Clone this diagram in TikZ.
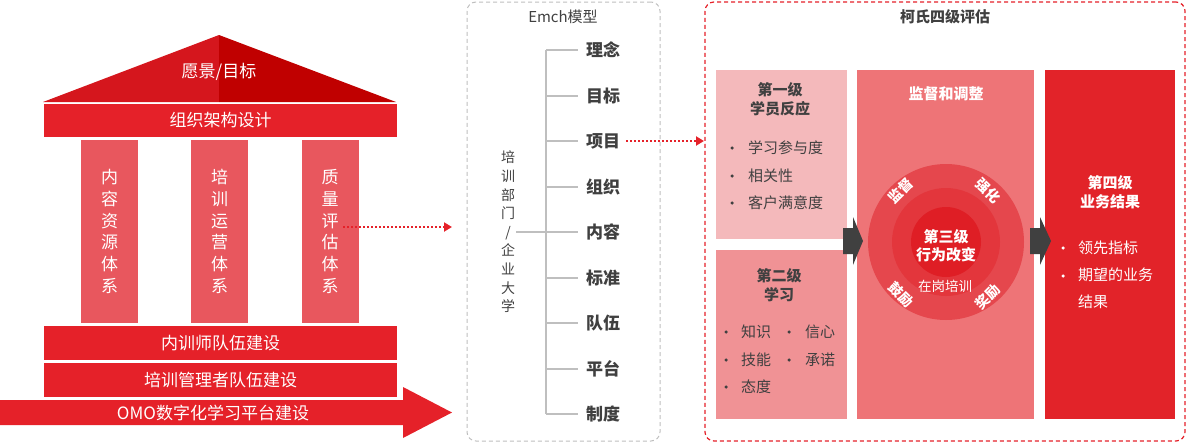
\documentclass[tikz,border=0pt]{standalone}
\usepackage{fontspec}
\setmainfont{Noto Sans CJK SC}
\usetikzlibrary{arrows.meta,calc}
\definecolor{roofL}{HTML}{D5161D}
\definecolor{roofR}{HTML}{C00000}
\definecolor{barRed}{HTML}{E52129}
\definecolor{pillarRed}{HTML}{E8575E}
\definecolor{darkText}{HTML}{404040}
\definecolor{treeGray}{HTML}{BFBFBF}
\definecolor{boxA}{HTML}{F4B9BB}
\definecolor{boxB}{HTML}{F09295}
\definecolor{boxC}{HTML}{EE7477}
\definecolor{boxD}{HTML}{E22329}
\definecolor{ringA}{HTML}{E5474D}
\definecolor{ringB}{HTML}{E3363C}
\definecolor{ringC}{HTML}{DF1E25}
\definecolor{arrowGray}{HTML}{404040}
\newcommand{\fsz}[2]{\fontsize{#1}{#2}\selectfont}
\begin{document}
\begin{tikzpicture}[x=1pt,y=-1pt,
  blk/.style={inner sep=0pt, outer sep=0pt},
  bar/.style={blk, fill=barRed, text=white, font=\fsz{17}{20}, minimum width=353pt, minimum height=34pt},
  pillar/.style={blk, fill=pillarRed, text=white, font=\fsz{17}{21.7}, align=center, minimum width=57pt, minimum height=183pt},
  item/.style={font=\fsz{17}{20}\bfseries, text=darkText, inner sep=0pt},
  tree/.style={draw=treeGray, line width=1.2pt},
  dotarrow/.style={draw=barRed, line width=2pt, dash pattern=on 2pt off 2pt, -{Triangle[length=8pt,width=9pt]}},
  bul/.style={circle, fill=#1, inner sep=0pt, minimum size=3.5pt},
  btext/.style={font=\fsz{15}{18}, anchor=west, inner sep=0pt},
  head/.style={font=\fsz{15}{19}\bfseries, align=center, inner sep=0pt},
  ring/.style={font=\fsz{14}{15}\bfseries, text=white, inner sep=0pt}
]
\useasboundingbox (0,0) rectangle (1186,442);

% ---------- temple ----------
\fill[roofL] (43,102) -- (219,35) -- (219,102) -- cycle;
\fill[roofR] (219,35) -- (396,102) -- (219,102) -- cycle;
\node[text=white, font=\fsz{17}{20}, inner sep=0pt] (vision) at (219,72) {愿景/目标};
\node[bar, minimum height=33pt] (org) at (220.5,120.5) {组织架构设计};
\node[pillar] (p1) at (109.5,231.5) {内\\容\\资\\源\\体\\系};
\node[pillar] (p2) at (219.5,231.5) {培\\训\\运\\营\\体\\系};
\node[pillar] (p3) at (330,231.5) {质\\量\\评\\估\\体\\系};
\node[bar] (trainers) at (220.5,343) {内训师队伍建设};
\node[bar] (managers) at (220.5,380) {培训管理者队伍建设};
\fill[barRed] (0,400) -- (403,400) -- (403,387) -- (452,412.5) -- (403,438) -- (403,425) -- (0,425) -- cycle;
\node[text=white, font=\fsz{17}{20}, inner sep=0pt] (omo) at (213,412.5) {OMO数字化学习平台建设};
\coordinate (q2) at (452,227);
\draw[dotarrow] ($(p3.center)+(13,-4.5)$) -- (q2);

% ---------- Emch ----------
\node[blk, draw=treeGray, line width=1pt, dash pattern=on 4pt off 3pt, rounded corners=9pt, minimum width=193pt, minimum height=439pt] (emch) at (563.5,221.5) {};
\node[font=\fsz{15}{18}, text=darkText, inner sep=0pt] (emchT) at (563,17) {Emch模型};
\draw[tree] (546,50) -- (546,414);
\foreach \n/\t/\yy in {e1/理念/50, e2/目标/96, e3/项目/141, e4/组织/187, e5/内容/232, e6/标准/278, e7/队伍/323, e8/平台/369, e9/制度/414}{
  \node[item] (\n) at (603,\yy) {\t};
  \draw[tree] (546,\yy) -- ([xshift=-8pt]\n.west);
}
\node[font=\fsz{14}{18.6}, text=darkText, align=center, inner sep=0pt] (dept) at (508,232) {培\\训\\部\\门\\/\\企\\业\\大\\学};
\draw[tree] ([xshift=1pt]dept.east) -- ([xshift=-8pt]e5.west);
\coordinate (kin) at (704,141);
\draw[dotarrow] ([xshift=6pt]e3.east) -- (kin);

% ---------- Kirkpatrick ----------
\node[blk, draw=barRed, line width=1.2pt, dash pattern=on 4pt off 3pt, rounded corners=9pt, minimum width=480pt, minimum height=439pt] (kirk) at (945,221.5) {};
\node[head, text=darkText] (kirkT) at (945,17) {柯氏四级评估};
\node[blk, fill=boxA, minimum width=131pt, minimum height=169pt] (b1) at (781.5,154.5) {};
\node[blk, fill=boxB, minimum width=131pt, minimum height=169pt] (b2) at (781.5,334.5) {};
\node[blk, fill=boxC, minimum width=177pt, minimum height=349pt] (b3) at (945.5,244.5) {};
\node[blk, fill=boxD, minimum width=130pt, minimum height=349pt] (b4) at (1110,244.5) {};

\fill[arrowGray] (843,228) -- (853,228) -- (853,217) -- (863,241) -- (853,265) -- (853,254) -- (843,254) -- cycle;
\fill[arrowGray] (1030,228) -- (1040,228) -- (1040,217) -- (1051,241) -- (1040,265) -- (1040,254) -- (1030,254) -- cycle;

% box 1
\node[head, text=darkText] (h1) at (780,99.5) {第一级\\学员反应};
\node[bul=darkText] (d11) at (732,148) {};
\node[btext, text=darkText] (t11) at (748,148) {学习参与度};
\node[bul=darkText] (d12) at (732,176) {};
\node[btext, text=darkText] (t12) at (748,176) {相关性};
\node[bul=darkText] (d13) at (732,203) {};
\node[btext, text=darkText] (t13) at (748,203) {客户满意度};

% box 2
\node[head, text=darkText] (h2) at (779,285.5) {第二级\\学习};
\node[bul=darkText] (d21) at (726,332) {};
\node[btext, text=darkText] (t21) at (741,332) {知识};
\node[bul=darkText] (d22) at (726,360) {};
\node[btext, text=darkText] (t22) at (741,360) {技能};
\node[bul=darkText] (d23) at (726,387) {};
\node[btext, text=darkText] (t23) at (741,387) {态度};
\node[bul=darkText] (d24) at (789,332) {};
\node[btext, text=darkText] (t24) at (805,332) {信心};
\node[bul=darkText] (d25) at (789,360) {};
\node[btext, text=darkText] (t25) at (805,360) {承诺};

% center
\node[head, text=white] (h3) at (946,94) {监督和调整};
\node[circle, fill=ringA, minimum size=156pt, inner sep=0pt] (r1) at (946,242) {};
\node[circle, fill=ringB, minimum size=108pt, inner sep=0pt] (r2) at (946,242) {};
\node[circle, fill=ringC, minimum size=70pt, inner sep=0pt] (r3) at (946,242) {};
\node[head, text=white, font=\fsz{15}{18}\bfseries] (lvl3) at (946,246) {第三级\\行为改变};
\node[font=\fsz{13.5}{16}, text=white, inner sep=0pt] (ojt) at (945,286) {在岗培训};
\node[ring, rotate=45] (s1) at (901,191) {监督};
\node[ring, rotate=-45] (s2) at (988,191) {强化};
\node[ring, rotate=-45] (s3) at (901,295) {鼓励};
\node[ring, rotate=45] (s4) at (988,297) {奖励};

% box 4
\node[head, text=white] (h4) at (1110,192.5) {第四级\\业务结果};
\node[bul=white] (d41) at (1063,248) {};
\node[btext, text=white] (t41) at (1078,248) {领先指标};
\node[bul=white] (d42) at (1063,276) {};
\node[btext, text=white, anchor=north west, align=left, font=\fsz{15}{27.5}] (t42) at (1078,267.5) {期望的业务\\结果};
\end{tikzpicture}
\end{document}
